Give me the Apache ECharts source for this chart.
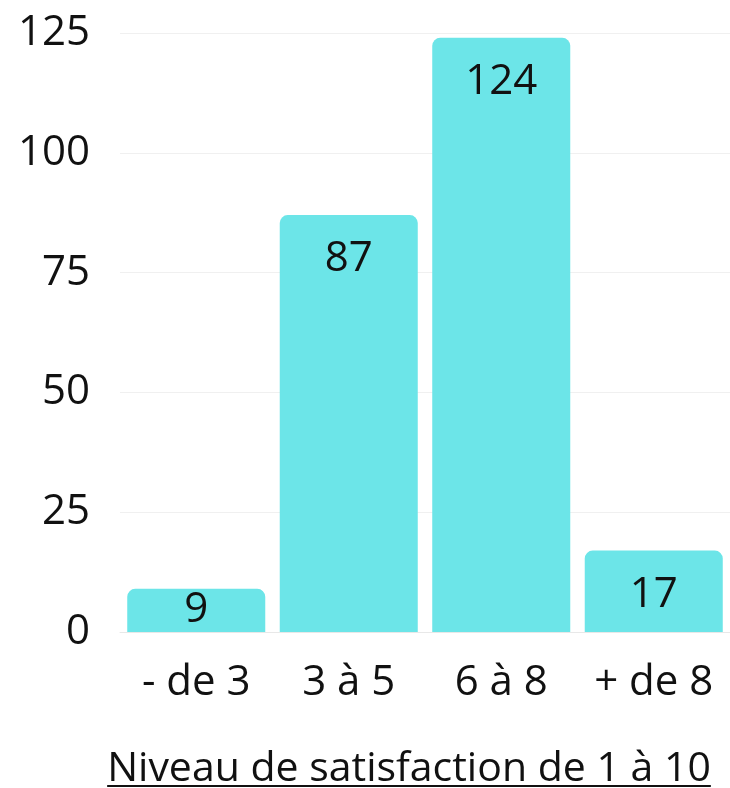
<!DOCTYPE html>
<html><head><meta charset="utf-8">
<style>html,body{margin:0;padding:0;background:#fff;overflow:hidden}#c{width:730px;height:788px}</style>
<script src="https://cdn.jsdelivr.net/npm/echarts@6/dist/echarts.min.js"></script>
</head><body><div id="c"></div>
<script>
const categories = ['- de 3', '3 à 5', '6 à 8', '+ de 8'];
const values = [9, 87, 124, 17];
const yTicks = [0, 25, 50, 75, 100, 125];
const axisTitle = 'Niveau de satisfaction de 1 à 10';

const FONT = '"Open Sans", "Noto Sans", sans-serif';
const FS = 42;
const TFS = 41;
const chart = echarts.init(document.getElementById('c'), null, {renderer: 'canvas'});

// measure title width for underline
const cv = document.createElement('canvas').getContext('2d');
cv.font = TFS + 'px ' + FONT;
const tw = cv.measureText(axisTitle).width;

const gridLeft = 120, gridRight = 0;
const shift = 16;
const centerX = gridLeft + (730 - gridLeft - gridRight) / 2 - shift;

chart.setOption({
  animation: false,
  grid: {left: gridLeft, right: gridRight, top: 33, bottom: 156, containLabel: false, outerBoundsMode: 'none'},
  xAxis: {
    type: 'category',
    data: categories,
    axisLine: {show: true, lineStyle: {color: '#e8e8e8', width: 1}},
    axisTick: {show: false},
    axisLabel: {color: '#111', fontSize: FS, fontFamily: FONT, margin: 30, interval: 0},
    name: axisTitle,
    nameLocation: 'middle',
    nameGap: 117,
    nameTextStyle: {color: '#111', fontSize: TFS, fontFamily: FONT, padding: [0, shift * 2, 0, 0]}
  },
  yAxis: {
    type: 'value',
    min: yTicks[0],
    max: yTicks[yTicks.length - 1],
    interval: 25,
    axisLine: {show: false},
    axisTick: {show: false},
    splitLine: {lineStyle: {color: '#f0f0f0', width: 1}},
    axisLabel: {color: '#111', fontSize: FS, fontFamily: FONT, margin: 30}
  },
  series: [{
    type: 'bar',
    data: values.map(v => ({
      value: v,
      label: v < 15 ? {position: 'inside'} : {}
    })),
    barCategoryGap: '9.5%',
    itemStyle: {color: '#6ce5e8', borderRadius: [8, 8, 0, 0]},
    label: {
      show: true,
      position: 'insideTop',
      distance: 23,
      color: '#111',
      fontSize: FS,
      fontFamily: FONT
    }
  }],
  graphic: [{
    type: 'rect',
    shape: {x: centerX - tw / 2, y: 785, width: tw, height: 2},
    style: {fill: '#111'},
    silent: true
  }]
});
</script></body></html>
